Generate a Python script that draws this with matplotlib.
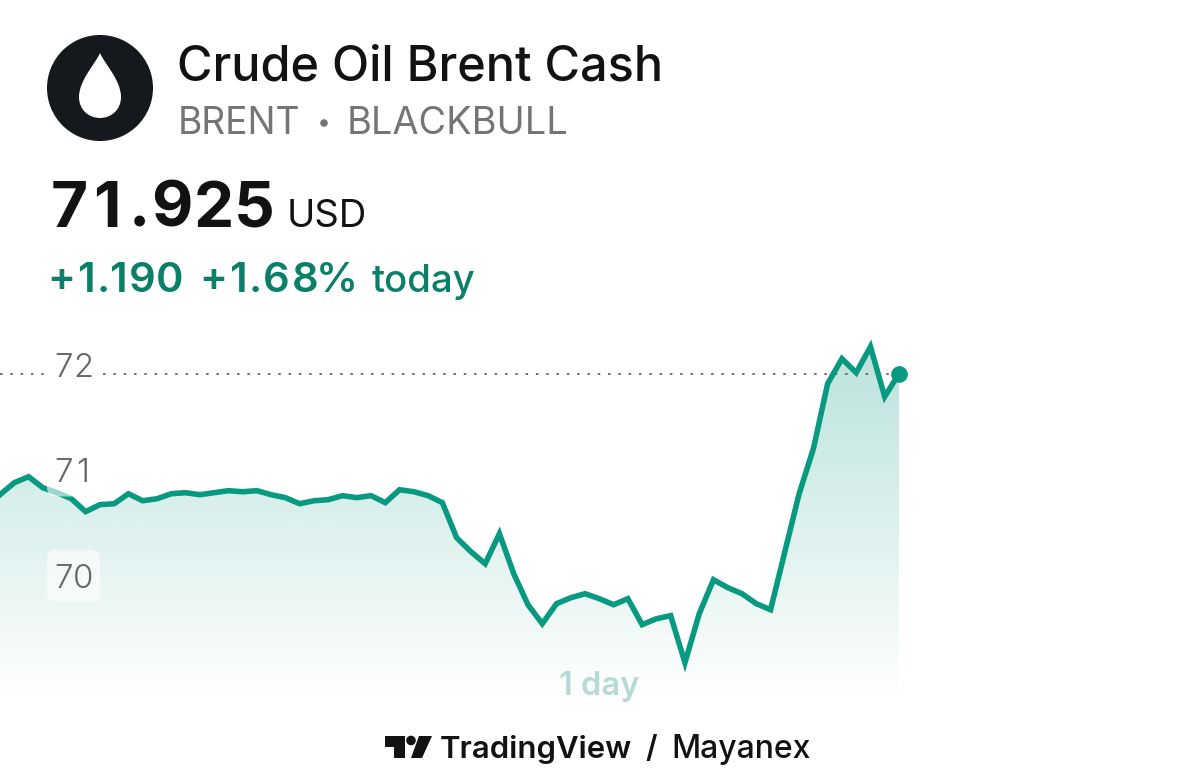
import numpy as np
import matplotlib
matplotlib.use('Agg')
import matplotlib.pyplot as plt
from matplotlib.patches import Circle, FancyBboxPatch, PathPatch, Polygon
from matplotlib.path import Path

# Brent intraday prices
prices = [70.783, 70.896, 70.953, 70.849, 70.802, 70.745, 70.623, 70.689,
          70.698, 70.792, 70.726, 70.745, 70.792, 70.802, 70.783, 70.802,
          70.821, 70.811, 70.821, 70.783, 70.755, 70.698, 70.726, 70.736,
          70.774, 70.755, 70.774, 70.708, 70.830, 70.811, 70.774, 70.708,
          70.377, 70.245, 70.132, 70.415, 70.038, 69.745, 69.566, 69.755,
          69.811, 69.849, 69.802, 69.745, 69.802, 69.557, 69.613, 69.642,
          69.198, 69.660, 69.981, 69.906, 69.849, 69.755, 69.698, 70.245,
          70.792, 71.217, 71.830, 72.066, 71.934, 72.179, 71.708, 71.925]
y_ticks = [72, 71, 70]
last_price = 71.925

GREEN = '#089981'
TEXT_GREEN = '#0b7f68'
INK = '#111214'
GREY = '#757575'
FONT = 'Inter'
W, H = 1199, 779
STEP = 899 / 63      # pixels per sample
PX_PER_USD = 106
Y72 = 365.7          # pixel row of the 72 level

fig = plt.figure(figsize=(W / 100, H / 100), dpi=100, facecolor='white')

# chart axes cover the figure, scaled in samples / USD
ax = fig.add_axes([0, 0, 1, 1])
xlim = (0, W / STEP)
ylim = (72 - (H - Y72) / PX_PER_USD, 72 + Y72 / PX_PER_USD)
ax.axis('off')

xs = np.arange(len(prices))
floor = 72 - (702 - Y72) / PX_PER_USD
top = 72 - (345 - Y72) / PX_PER_USD

# vertical gradient clipped to the area under the line
grad = np.zeros((256, 2, 4))
grad[..., :3] = matplotlib.colors.to_rgb(GREEN)
grad[..., 3] = np.linspace(0.28, 0.0, 256)[:, None]
img = ax.imshow(grad, extent=[0, xs[-1], floor, top], origin='upper',
                aspect='auto', zorder=1, interpolation='bilinear')
clip = ax.fill_between(xs, prices, floor, color='none', zorder=0)
img.set_clip_path(clip.get_paths()[0], ax.transData)
ax.set_xlim(xlim)
ax.set_ylim(ylim)

ax.plot([0, xs[-1]], [last_price, last_price], color='#707070', lw=1.4,
        ls=(0, (1.3, 4.0)), zorder=2)
ax.plot(xs, prices, color=GREEN, lw=4.0, solid_joinstyle='miter', zorder=3)
ax.plot(xs[-1], prices[-1], 'o', color=GREEN, ms=12, mew=0, zorder=4)

# overlay in pixel coordinates for the header and labels
ov = fig.add_axes([0, 0, 1, 1], zorder=5)
ov.set_xlim(0, W)
ov.set_ylim(H, 0)
ov.axis('off')
ov.patch.set_alpha(0)

def spaced(chars, centers, baseline, **kw):
    # tabular figures: every glyph gets its own centre
    for c, cx in zip(chars, centers):
        ov.text(cx, baseline, c, ha='center', va='baseline', family=FONT, **kw)

tick_centers = [63, 83]
tick_baseline = {72: 376.5, 71: 482, 70: 587.5}
box_alpha = {72: 1.0, 71: 0.6, 70: 0.6}
box_pad = {72: 4, 71: 8, 70: 8}
for t in y_ticks:
    cy = tick_baseline[t] - 11.5
    ov.add_patch(FancyBboxPatch((55, cy - 18), 37, 36,
                                boxstyle=f'round,pad={box_pad[t]},rounding_size=9', lw=0,
                                fc='white', alpha=box_alpha[t]))
    spaced(str(t), tick_centers, tick_baseline[t], fontsize=23.8,
           color='#676767', fontweight=300)

ov.text(177, 80, 'Crude Oil Brent Cash', fontsize=35, family=FONT, color=INK,
        fontweight=500, va='baseline')
ov.text(178, 134, 'BRENT', fontsize=26.8, family=FONT, color=GREY, fontweight=400,
        va='baseline')
ov.add_patch(Circle((324, 123), 3.8, fc=GREY, lw=0))
ov.text(347, 134, 'BLACKBULL', fontsize=27.3, family=FONT, color=GREY, fontweight=400,
        va='baseline')

spaced('71.925', [69, 107, 139, 172, 214, 254], 226.5, fontsize=46, color=INK,
       fontweight=700)
ov.text(287, 227, 'USD', fontsize=27.5, family=FONT, color=INK, fontweight=400,
        va='baseline')

spaced('+1.190', [61, 86, 103, 118, 142, 170], 291.5, fontsize=30, color=TEXT_GREEN,
       fontweight=600)
spaced('+1.68%', [213, 238, 255, 276, 305, 337], 291.5, fontsize=30, color=TEXT_GREEN,
       fontweight=600)
ov.text(372, 291.5, 'today', fontsize=27.6, family=FONT, color=TEXT_GREEN, fontweight=500,
        va='baseline')
ov.text(599, 695, '1 day', fontsize=23.5, family=FONT, color='#b6dbd4', fontweight=600,
        ha='center', va='baseline')

# round logo with the oil drop
ov.add_patch(Circle((100, 88), 53, fc='#15181c', lw=0))
drop = Path([(100, 53), (96, 63), (79, 80), (79, 97), (79, 110), (89, 118), (100, 118),
             (111, 118), (121, 110), (121, 97), (121, 80), (104, 63), (100, 53)],
            [Path.MOVETO] + [Path.CURVE4] * 12)
ov.add_patch(PathPatch(drop, fc='white', lw=0))

# TradingView mark and footer text
ov.add_patch(Polygon([(385, 736), (405, 736), (405, 758), (394, 758), (394, 747), (385, 747)],
                     fc=INK, lw=0))
ov.add_patch(Circle((411, 740.5), 4.8, fc=INK, lw=0))
ov.add_patch(Polygon([(419, 736), (432, 736), (422, 758), (411, 758)], fc=INK, lw=0))
ov.text(440, 758, 'TradingView', fontsize=22.4, family=FONT, color=INK, fontweight=600,
        va='baseline')
ov.text(651, 758, '/', fontsize=22, family=FONT, color=INK, fontweight=600, ha='center',
        va='baseline')
ov.text(671, 758, 'Mayanex', fontsize=23, family=FONT, color=INK, fontweight=500,
        va='baseline')

fig.savefig('out.png', dpi=100)
